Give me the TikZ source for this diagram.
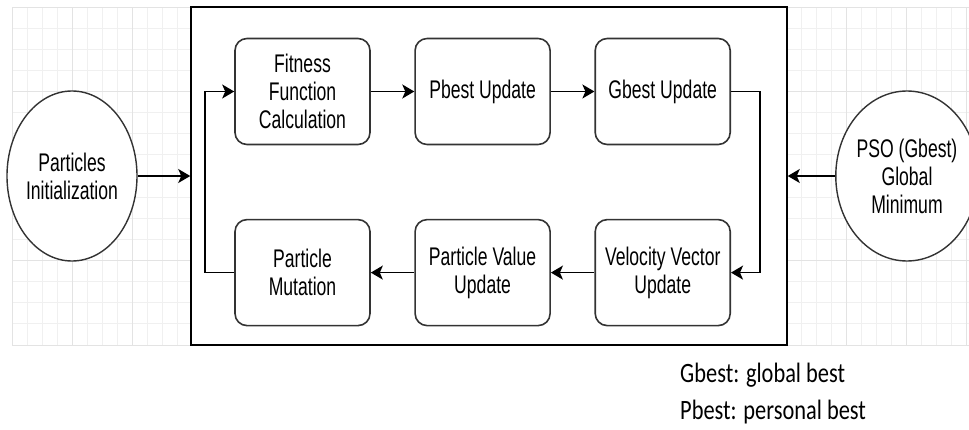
\documentclass[tikz,border=0pt]{standalone}
\usepackage{fontspec}
\setmainfont{Liberation Sans}[FakeStretch=0.69]
\newfontfamily\legendfont{Carlito}[FakeStretch=0.8]
\usetikzlibrary{positioning,shapes.geometric,arrows.meta}

\tikzset{
	stepbox/.style={draw=black!80, line width=1.6pt, rounded corners=12pt, fill=white,
		minimum width=135pt, minimum height=106pt, inner sep=2pt, align=center,
		font=\fontsize{25.5}{28}\selectfont},
	endnode/.style={ellipse, draw=black!80, line width=1.4pt, fill=white,
		minimum width=120pt, minimum height=170pt, inner sep=0pt, align=center,
		font=\fontsize{25.5}{28}\selectfont},
	flow/.style={-{Stealth[length=12pt,width=14pt,inset=3pt]}, line width=1.5pt},
	minorgrid/.style={draw=black!6, line width=0.8pt},
	majorgrid/.style={draw=black!11, line width=0.8pt},
}

\begin{document}
\begin{tikzpicture}[x=1pt,y=1pt]
	\useasboundingbox (0,0) rectangle (969,429);

	% Background grid
	\foreach \k in {0,...,16}
		\draw[minorgrid] (12,422-21.125*\k) -- (969,422-21.125*\k);
	\foreach \x in {12,27,...,177}
		\draw[minorgrid] (\x,84) -- (\x,422);
	\foreach \x in {801,816,...,966}
		\draw[minorgrid] (\x,84) -- (\x,422);
	\foreach \k in {0,4,...,16}
		\draw[majorgrid] (12,422-21.125*\k) -- (969,422-21.125*\k);
	\foreach \x in {12,72,132,846,906,966}
		\draw[majorgrid] (\x,84) -- (\x,422);

	% Define nodes
	\node[draw, line width=1.5pt, fill=white, minimum width=596pt, minimum height=338pt, inner sep=0pt] (frame) at (489,253) {};
	\node[stepbox] (fitness) at (302.5,337.5) {Fitness\\Function\\Calculation};
	\node[stepbox, right=43.5pt of fitness] (pbest) {Pbest Update};
	\node[stepbox, right=43.5pt of pbest] (gbest) {Gbest Update};
	\node[stepbox, below=73.5pt of gbest] (velocity) {Velocity Vector\\Update};
	\node[stepbox, left=43.5pt of velocity] (value) {Particle Value\\Update};
	\node[stepbox, left=43.5pt of value] (mutation) {Particle\\Mutation};
	\node[endnode] (init) at (72,253) {Particles\\Initialization};
	\node[endnode] (pso) at (907,253) {PSO (Gbest)\\Global\\Minimum};
	\node[anchor=west, inner sep=0pt, font=\legendfont\fontsize{28}{30}\selectfont] (gdef) at (680,54) {Gbest: global best};
	\node[anchor=west, inner sep=0pt, font=\legendfont\fontsize{28}{30}\selectfont] (pdef) at (680,17) {Pbest: personal best};

	% Connect the nodes
	\draw[flow] (init.east) -- (frame.west);
	\draw[flow] (pso.west) -- (frame.east);
	\draw[flow] (fitness) -- (pbest);
	\draw[flow] (pbest) -- (gbest);
	\draw[flow] (gbest.east) -- ++(29,0) |- (velocity.east);
	\draw[flow] (velocity) -- (value);
	\draw[flow] (value) -- (mutation);
	\draw[flow] (mutation.west) -- ++(-29,0) |- (fitness.west);
\end{tikzpicture}
\end{document}
